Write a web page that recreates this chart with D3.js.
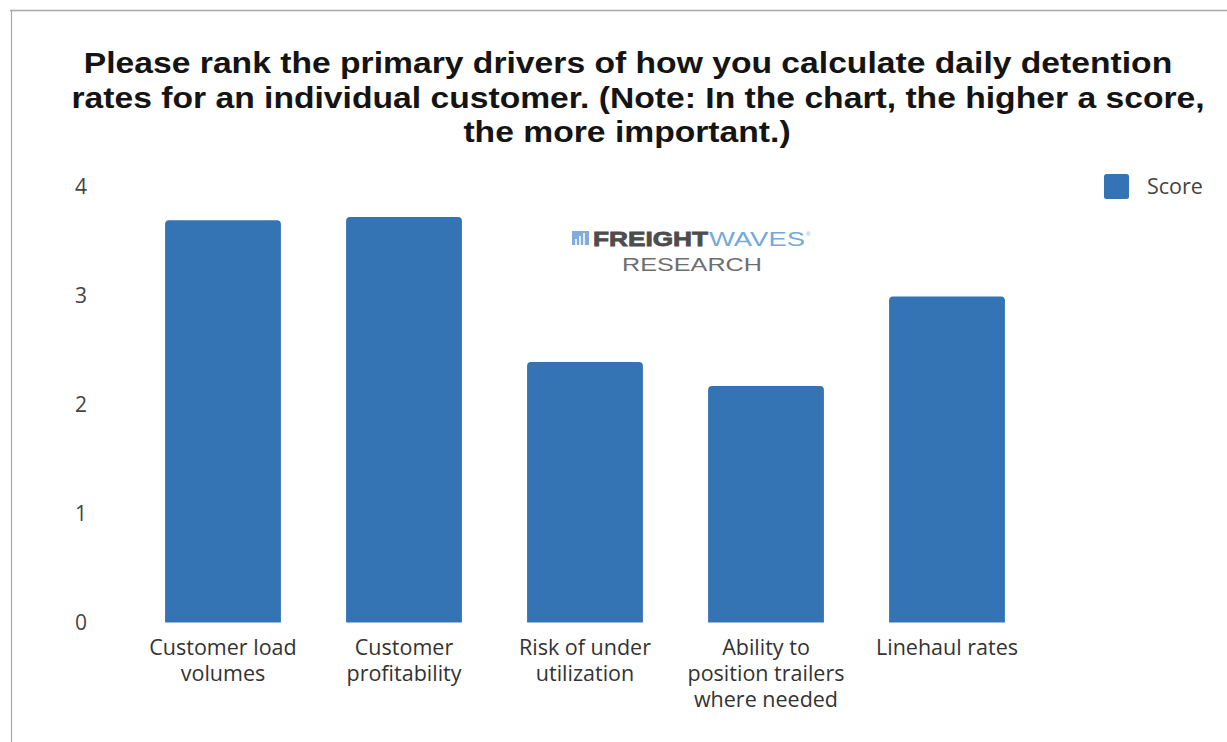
<!DOCTYPE html>
<html>
<head>
<meta charset="utf-8">
<script src="https://cdn.jsdelivr.net/npm/d3@7/dist/d3.min.js"></script>
<style>
  body { margin: 0; background: #fff; }
  svg { display: block; }
</style>
</head>
<body>
<svg id="chart" width="1227" height="742"></svg>
<script>
// Survey results: average importance score per driver
const categories = [
  "Customer load volumes",
  "Customer profitability",
  "Risk of under utilization",
  "Ability to position trailers where needed",
  "Linehaul rates"
];
const categoryLines = [
  ["Customer load", "volumes"],
  ["Customer", "profitability"],
  ["Risk of under", "utilization"],
  ["Ability to", "position trailers", "where needed"],
  ["Linehaul rates"]
];
const scores = [3.69, 3.72, 2.39, 2.17, 2.99];
const yTicks = [0, 1, 2, 3, 4];
const seriesName = "Score";
const titleLines = [
  "Please rank the primary drivers of how you calculate daily detention",
  "rates for an individual customer. (Note: In the chart, the higher a score,",
  "the more important.)"
];
const titleCenters = [628, 638, 627];

const barColor = "#3474b5";
const labelFont = "'Open Sans', 'Noto Sans', sans-serif";

const svg = d3.select("#chart");

// outer frame (top and left edges)
svg.append("line").attr("x1", 10).attr("x2", 1227).attr("y1", 10.5).attr("y2", 10.5)
  .attr("stroke", "#a8a8a8").attr("stroke-width", 1.6);
svg.append("line").attr("x1", 11.5).attr("x2", 11.5).attr("y1", 10).attr("y2", 742)
  .attr("stroke", "#a8a8a8").attr("stroke-width", 1.2);

// title, set in a slightly wide bold face
const titleScale = 1.122;
svg.append("g")
  .selectAll("text")
  .data(titleLines)
  .join("text")
  .attr("transform", (d, i) => `translate(${titleCenters[i]},${73.3 + i * 34.5}) scale(${titleScale},1)`)
  .attr("text-anchor", "middle")
  .attr("font-family", "'Liberation Sans', Arial, sans-serif")
  .attr("font-weight", "bold")
  .attr("font-size", 30)
  .attr("fill", "#141414")
  .text(d => d);

// scales
const x = d3.scaleBand()
  .domain(categories)
  .range([132.5, 1037.5])
  .paddingInner(0.36)
  .paddingOuter(0.18);

const y = d3.scaleLinear()
  .domain([0, 4])
  .range([622.5, 186.5]);

// y axis (labels only)
const yAxis = svg.append("g")
  .attr("transform", "translate(90,0)")
  .call(d3.axisLeft(y).tickValues(yTicks).tickSize(0).tickPadding(0).tickFormat(d3.format("d")));
yAxis.select(".domain").remove();
yAxis.selectAll("text")
  .attr("x", -9)
  .attr("text-anchor", "middle")
  .attr("font-family", labelFont)
  .attr("font-size", 21)
  .attr("fill", "#444");

// bars with slightly rounded top corners
const r = 4;
function barPath(x0, y0, w, h) {
  const rr = Math.min(r, h, w / 2);
  return `M${x0},${y0 + h}V${y0 + rr}Q${x0},${y0} ${x0 + rr},${y0}` +
         `H${x0 + w - rr}Q${x0 + w},${y0} ${x0 + w},${y0 + rr}V${y0 + h}Z`;
}
svg.append("g")
  .selectAll("path")
  .data(categories.map((c, i) => ({ c, v: scores[i] })))
  .join("path")
  .attr("d", d => barPath(x(d.c), y(d.v), x.bandwidth(), y(0) - y(d.v)))
  .attr("fill", barColor);

// x axis category labels, one text per line
const lineGap = 26;
svg.append("g")
  .selectAll("text")
  .data(categories.flatMap((c, i) => categoryLines[i].map((l, j) => ({ c, l, j }))))
  .join("text")
  .attr("x", d => x(d.c) + x.bandwidth() / 2)
  .attr("y", d => 655 + d.j * lineGap)
  .attr("text-anchor", "middle")
  .attr("font-family", labelFont)
  .attr("font-size", 21.5)
  .attr("fill", "#333")
  .text(d => d.l);

// legend
const legend = svg.append("g").attr("transform", "translate(1104,174)");
legend.append("rect").attr("width", 25).attr("height", 25).attr("rx", 2.5)
  .attr("fill", barColor);
legend.append("text").attr("x", 43).attr("y", 20)
  .attr("font-family", labelFont).attr("font-size", 21.5).attr("fill", "#444")
  .text(seriesName);

// brand mark
const brand = svg.append("g").attr("opacity", 0.85);
const icon = brand.append("g").attr("transform", "translate(572,231)");
icon.append("rect").attr("width", 17).attr("height", 14).attr("fill", "#6a9fd6");
[[3, 8, 6], [7, 5, 9], [11, 2, 12]].forEach(([bx, by, bh]) => {
  icon.append("rect").attr("x", bx).attr("y", by).attr("width", 2).attr("height", bh).attr("fill", "#ffffff").attr("opacity", 0.8);
});
brand.append("text").attr("x", 593).attr("y", 245.5)
  .attr("font-family", "'Liberation Sans', Arial, sans-serif").attr("font-weight", "900")
  .attr("font-size", 20.5).attr("fill", "#2e2e2e").attr("stroke", "#2e2e2e").attr("stroke-width", 0.8)
  .attr("textLength", 115).attr("lengthAdjust", "spacingAndGlyphs")
  .text("FREIGHT");
brand.append("text").attr("x", 709).attr("y", 245.5)
  .attr("font-family", "'Liberation Sans', Arial, sans-serif")
  .attr("font-size", 20.5).attr("fill", "#5b9bd5")
  .attr("textLength", 96).attr("lengthAdjust", "spacingAndGlyphs")
  .text("WAVES");
brand.append("text").attr("x", 806).attr("y", 236)
  .attr("font-family", "'Liberation Sans', Arial, sans-serif")
  .attr("font-size", 6).attr("fill", "#5b9bd5").text("®");
brand.append("text").attr("x", 622).attr("y", 270.5)
  .attr("font-family", "'Liberation Sans', Arial, sans-serif")
  .attr("font-size", 18.5).attr("fill", "#555")
  .attr("textLength", 140).attr("lengthAdjust", "spacingAndGlyphs")
  .text("RESEARCH");
</script>
</body>
</html>
